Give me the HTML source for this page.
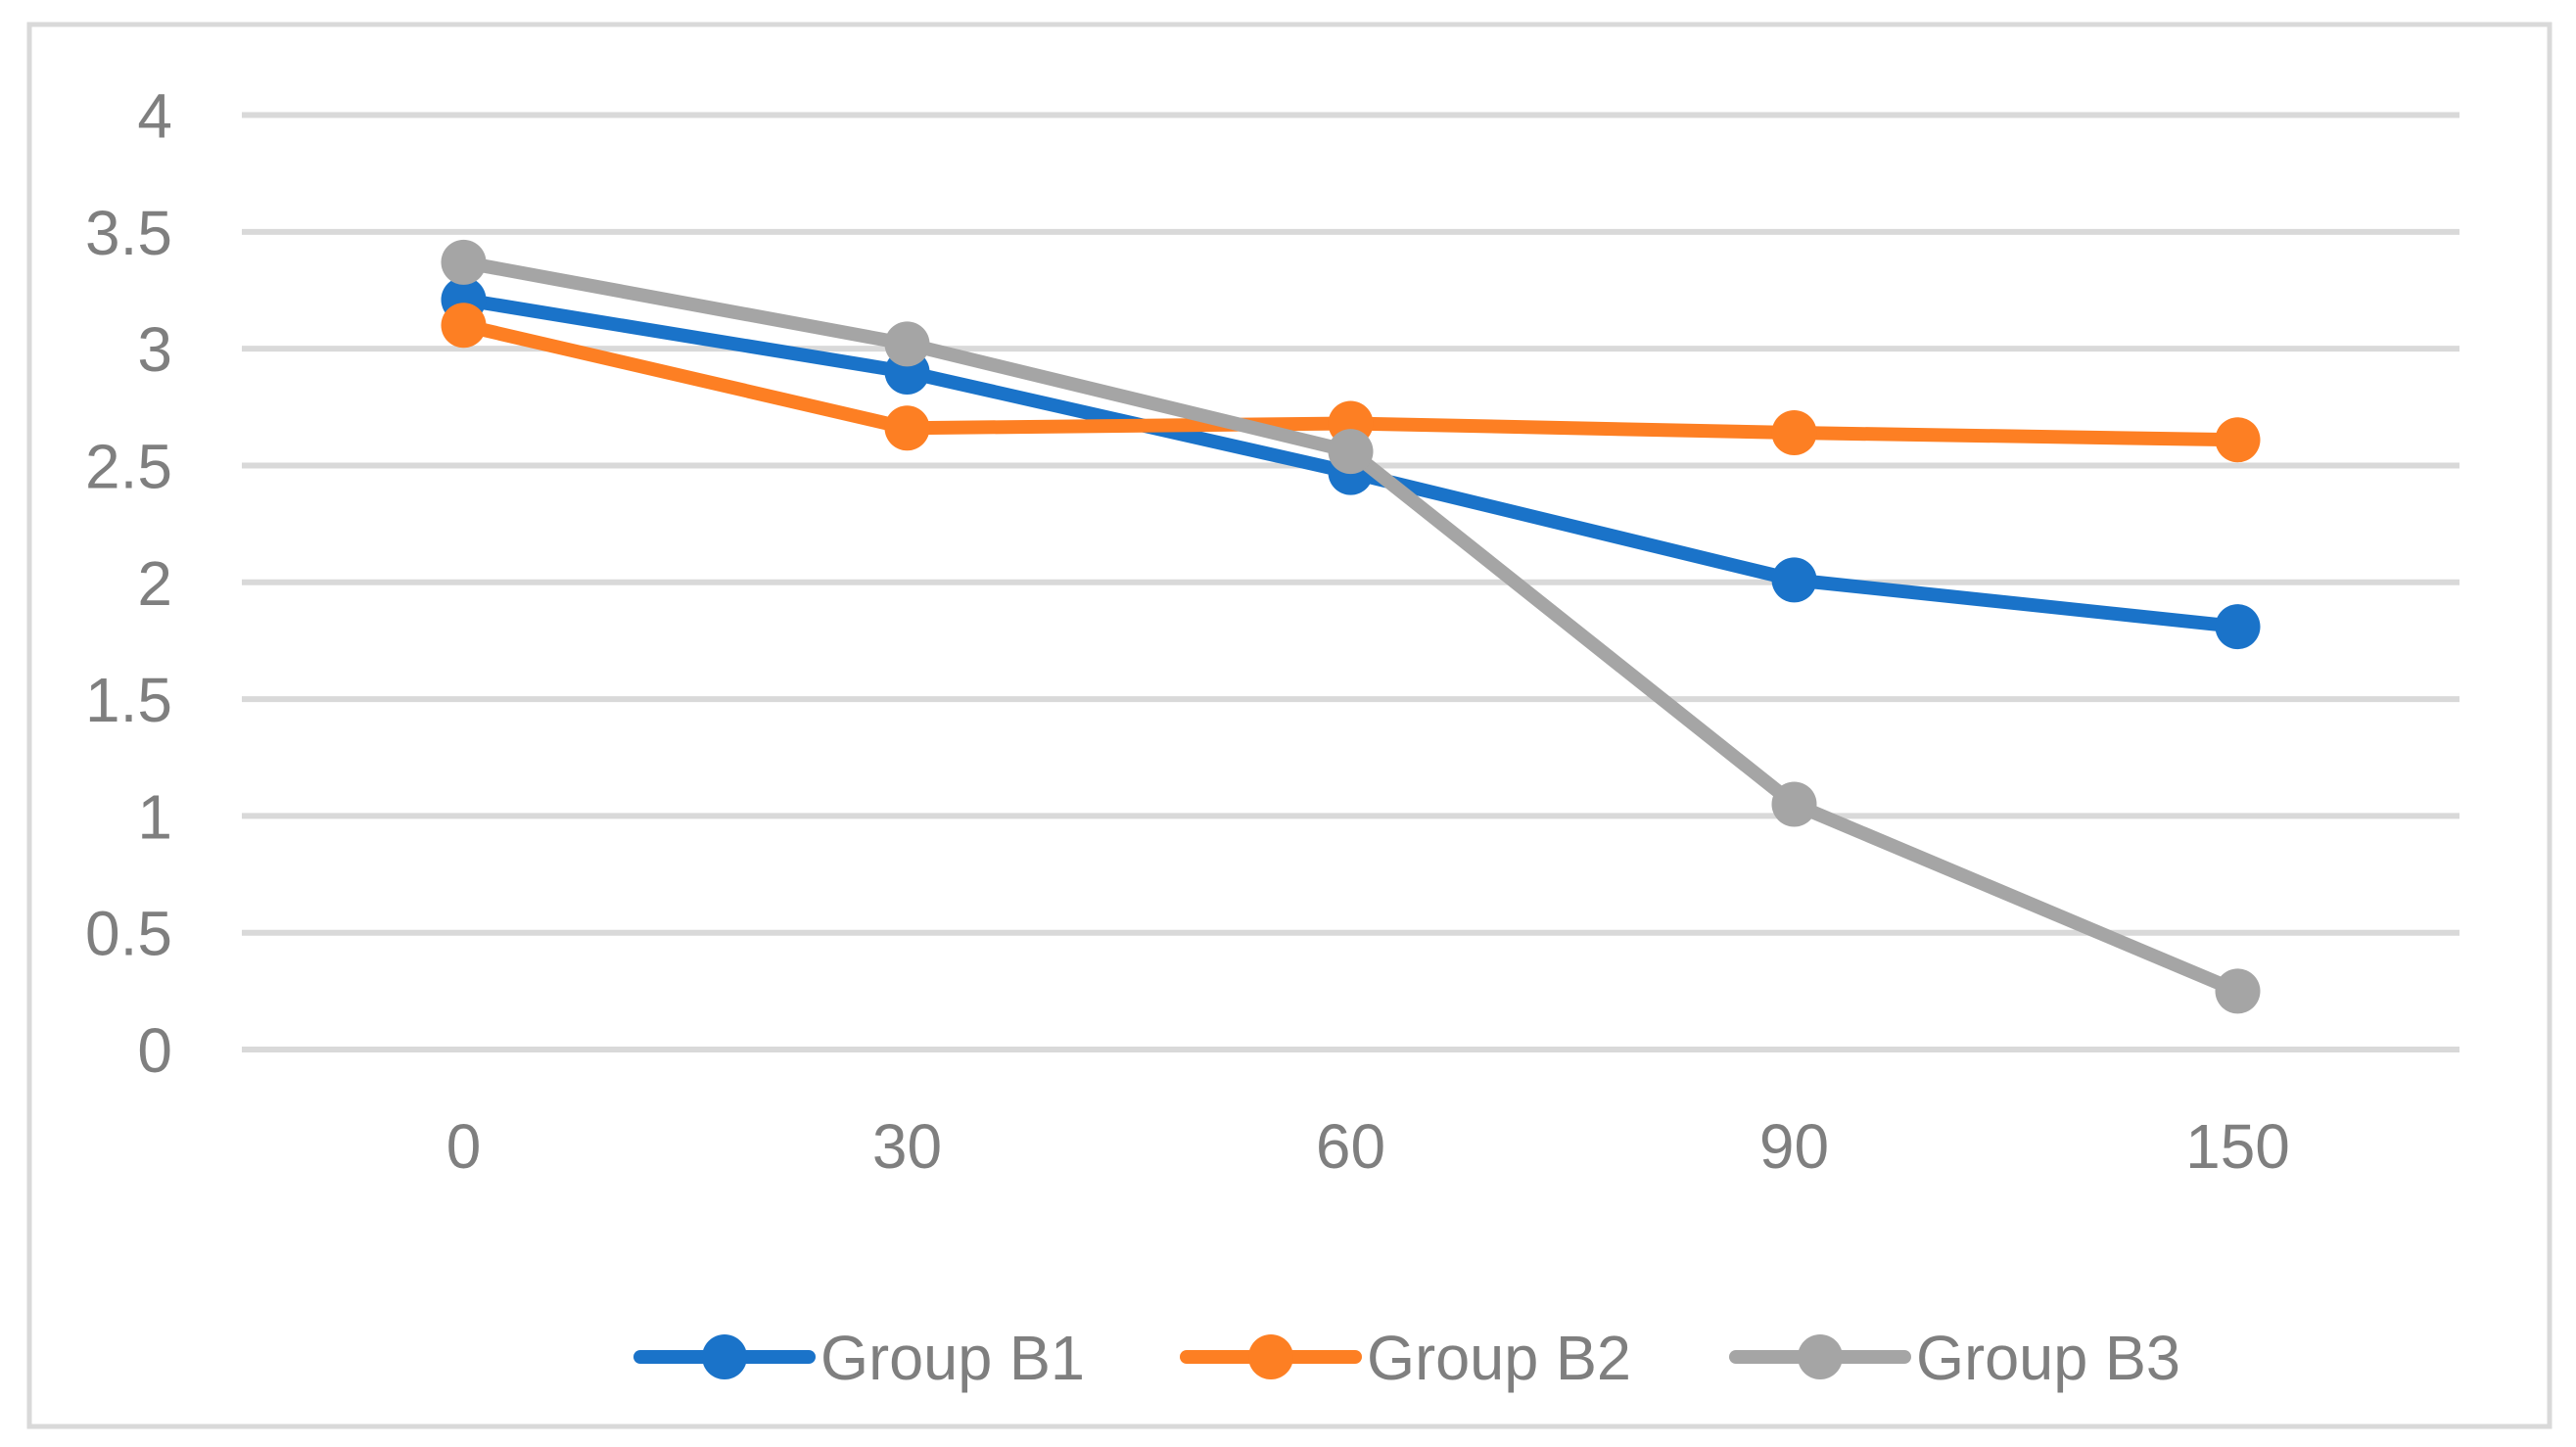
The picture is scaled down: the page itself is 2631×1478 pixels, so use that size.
<!DOCTYPE html>
<html><head><meta charset="utf-8"><style>
html,body{margin:0;padding:0;background:#fff;}
svg{display:block;}
text{font-family:"Liberation Sans",sans-serif;fill:#7f7f7f;}
</style></head><body>
<svg id="chart" width="2631" height="1478" viewBox="0 0 2631 1478" xmlns="http://www.w3.org/2000/svg">
<rect x="30" y="25" width="2574" height="1432" fill="#fff" stroke="#d9d9d9" stroke-width="5"/>
<g id="grid"></g><g id="ylabels"></g><g id="xlabels"></g><g id="series"></g><g id="legend"></g>
</svg>
<script>
const categories = ["0","30","60","90","150"];
const yTicks = [0,0.5,1,1.5,2,2.5,3,3.5,4];
const yTickLabels = ["0","0.5","1","1.5","2","2.5","3","3.5","4"];
const seriesNames = ["Group B1","Group B2","Group B3"];
const seriesColors = ["#1a73c9","#fd7f23","#a5a5a5"];
const b1 = [3.21,2.9,2.47,2.01,1.81];
const b2 = [3.1,2.66,2.68,2.64,2.61];
const b3 = [3.37,3.02,2.56,1.05,0.25];
const allSeries = [b1,b2,b3];

const NS="http://www.w3.org/2000/svg";
const plotL=247, plotR=2512, yTop=117.5, yBot=1072, yMax=4;
const n=categories.length;
function xPos(i){ return plotL + (plotR-plotL)*(i+0.5)/n; }
function yPos(v){ return yBot - (yBot-yTop)*v/yMax; }
function mk(tag,attrs,parent){ const e=document.createElementNS(NS,tag); for(const k in attrs) e.setAttribute(k,attrs[k]); parent.appendChild(e); return e; }

const grid=document.getElementById('grid'), yl=document.getElementById('ylabels'), xl=document.getElementById('xlabels');
yTicks.forEach((t,i)=>{
  const g=mk('line',{x1:plotL,x2:plotR,y1:yPos(t),y2:yPos(t),stroke:'#d9d9d9','stroke-width':6},grid);
  
  
  const tx=mk('text',{x:176,y:yPos(t)+23,'text-anchor':'end','font-size':64},yl);
  tx.textContent=yTickLabels[i];
  
  
});
categories.forEach((c,i)=>{
  const tx=mk('text',{x:xPos(i),y:1193,'text-anchor':'middle','font-size':64},xl);
  tx.textContent=c;
  
  
});
const sg=document.getElementById('series');
allSeries.forEach((s,k)=>{
  const g=mk('g',{},sg);
  
  
  const pts=s.map((v,i)=>xPos(i)+','+yPos(v)).join(' ');
  const pl=mk('polyline',{points:pts,fill:'none',stroke:seriesColors[k],'stroke-width':14,'stroke-linejoin':'round'},g);
  
  
  s.forEach((v,i)=>{
    const c=mk('circle',{cx:xPos(i),cy:yPos(v),r:23,fill:seriesColors[k]},g);
    
    
  });
});
const lg=document.getElementById('legend');
const legX=[654,1212,1773];
seriesNames.forEach((name,k)=>{
  const g=mk('g',{},lg);
  
  
  mk('line',{x1:legX[k],x2:legX[k]+172,y1:1386,y2:1386,stroke:seriesColors[k],'stroke-width':14,'stroke-linecap':'round'},g);
  mk('circle',{cx:legX[k]+86,cy:1386,r:23,fill:seriesColors[k]},g);
  const tx=mk('text',{x:legX[k]+184,y:1409,'font-size':64,'textLength':270,'lengthAdjust':'spacingAndGlyphs'},g);
  tx.textContent=name;
});
</script>
</body></html>
